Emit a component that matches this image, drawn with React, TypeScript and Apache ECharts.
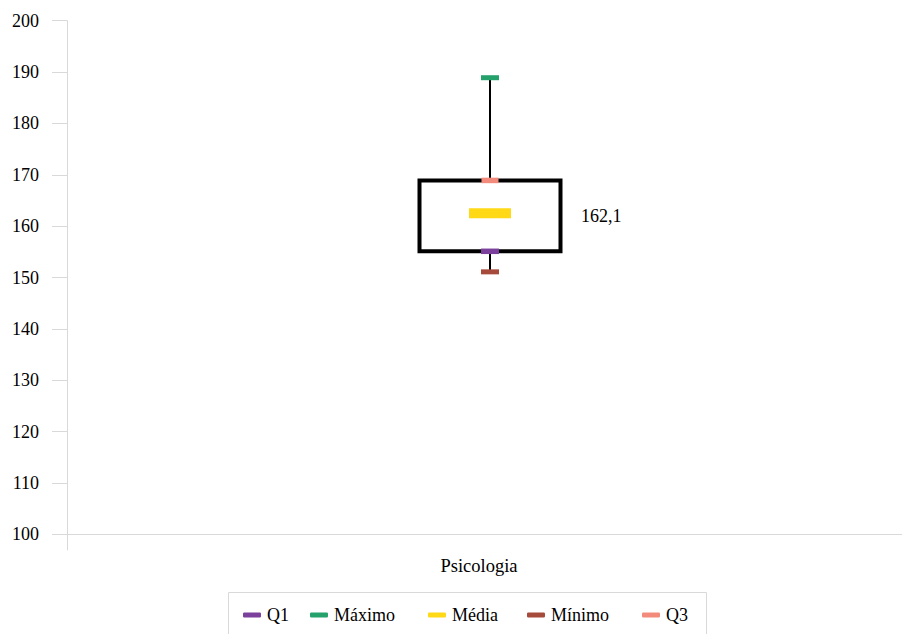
import React, { useEffect, useRef } from "react";
import * as echarts from "echarts";

const categories = ["Psicologia"];
const minimo = [151.1];
const q1 = [155.1];
const media = [162.5];
const q3 = [168.9];
const maximo = [188.9];
const mediaLabel = [162.1];
const yMin = 100;
const yMax = 200;
const yInterval = 10;

const FONT = "Liberation Serif";
const GRAY = "#d9d9d9";

const colors = {
  Q1: "#7B3F9C",
  "Máximo": "#25A26C",
  "Média": "#FFD816",
  "Mínimo": "#A64A3B",
  Q3: "#F38B7D",
};

export default function App() {
  const ref = useRef<HTMLDivElement>(null);
  useEffect(() => {
    if (!ref.current) return;
    const chart = echarts.init(ref.current, null, { renderer: "svg" });
    const boxData = categories.map((c, i) => [i, minimo[i], q1[i], q3[i], maximo[i]]);
    const markerSeries = (name: string, arr: number[], size: number[], extra: any = {}) => ({
      name,
      type: "scatter",
      symbol: "rect",
      symbolSize: size,
      itemStyle: { color: (colors as any)[name], opacity: 1 },
      data: arr.map((v, i) => [i, v]),
      z: 5,
      ...extra,
    });
    const legendItem = (name: string, left: number) => ({
      data: [name],
      left,
      top: 606,
      padding: 0,
      icon: "roundRect",
      itemWidth: 18,
      itemHeight: 5,
      itemGap: 0,
      textStyle: { fontFamily: FONT, fontSize: 18, color: "#000", padding: [0, 0, 0, 1] },
      selectedMode: false,
    });
    chart.setOption({
      animation: false,
      backgroundColor: "#fff",
      grid: {
        left: 67,
        right: -11,
        top: 20.7,
        bottom: 99.7,
        containLabel: false,
        outerBoundsMode: "none",
      },
      xAxis: {
        type: "category",
        data: categories,
        boundaryGap: true,
        axisLine: { show: true, lineStyle: { color: GRAY, width: 1 } },
        axisTick: { show: true, length: 16, lineStyle: { color: GRAY } },
        axisLabel: {
          fontFamily: FONT,
          fontSize: 18.5,
          color: "#000",
          margin: 22,
          padding: [0, 22, 0, 0],
        },
        splitLine: { show: false },
      },
      yAxis: {
        type: "value",
        min: yMin,
        max: yMax,
        interval: yInterval,
        axisLine: { show: true, lineStyle: { color: GRAY, width: 1 } },
        axisTick: { show: true, length: 15, lineStyle: { color: GRAY } },
        axisLabel: { fontFamily: FONT, fontSize: 18, color: "#000", margin: 28 },
        splitLine: { show: false },
      },
      legend: [
        legendItem("Q1", 243),
        legendItem("Máximo", 310),
        legendItem("Média", 428),
        legendItem("Mínimo", 527),
        legendItem("Q3", 642),
      ],
      graphic: [
        {
          type: "rect",
          shape: { x: 228.5, y: 592.5, width: 478, height: 60 },
          style: { fill: "none", stroke: GRAY, lineWidth: 1 },
          silent: true,
        },
      ],
      series: [
        {
          type: "custom",
          name: "box",
          data: boxData,
          z: 2,
          renderItem: (params: any, api: any) => {
            const idx = api.value(0);
            const pMin = api.coord([idx, api.value(1)]);
            const pQ1 = api.coord([idx, api.value(2)]);
            const pQ3 = api.coord([idx, api.value(3)]);
            const pMax = api.coord([idx, api.value(4)]);
            const x = pMin[0];
            const w = 141;
            return {
              type: "group",
              children: [
                {
                  type: "line",
                  shape: { x1: x, y1: pMax[1], x2: x, y2: pQ3[1] },
                  style: { stroke: "#000", lineWidth: 2 },
                },
                {
                  type: "line",
                  shape: { x1: x, y1: pQ1[1], x2: x, y2: pMin[1] },
                  style: { stroke: "#000", lineWidth: 2 },
                },
                {
                  type: "rect",
                  shape: { x: x - w / 2, y: pQ3[1], width: w, height: pQ1[1] - pQ3[1] },
                  style: { fill: "#fff", stroke: "#000", lineWidth: 4 },
                },
              ],
            };
          },
        },
        markerSeries("Q1", q1, [18, 5.5]),
        markerSeries("Máximo", maximo, [18, 5]),
        markerSeries("Média", media, [42, 10], {
          label: {
            show: true,
            position: "right",
            distance: 70,
            offset: [0, 3],
            fontFamily: FONT,
            fontSize: 18,
            color: "#000",
            formatter: (p: any) => mediaLabel[p.dataIndex].toFixed(1).replace(".", ","),
          },
        }),
        markerSeries("Mínimo", minimo, [18, 5]),
        markerSeries("Q3", q3, [17, 5.5]),
      ],
    });
    return () => chart.dispose();
  }, []);
  return (
    <div
      ref={ref}
      style={{ position: "absolute", left: 0, top: 0, width: 902, height: 634 }}
    />
  );
}
